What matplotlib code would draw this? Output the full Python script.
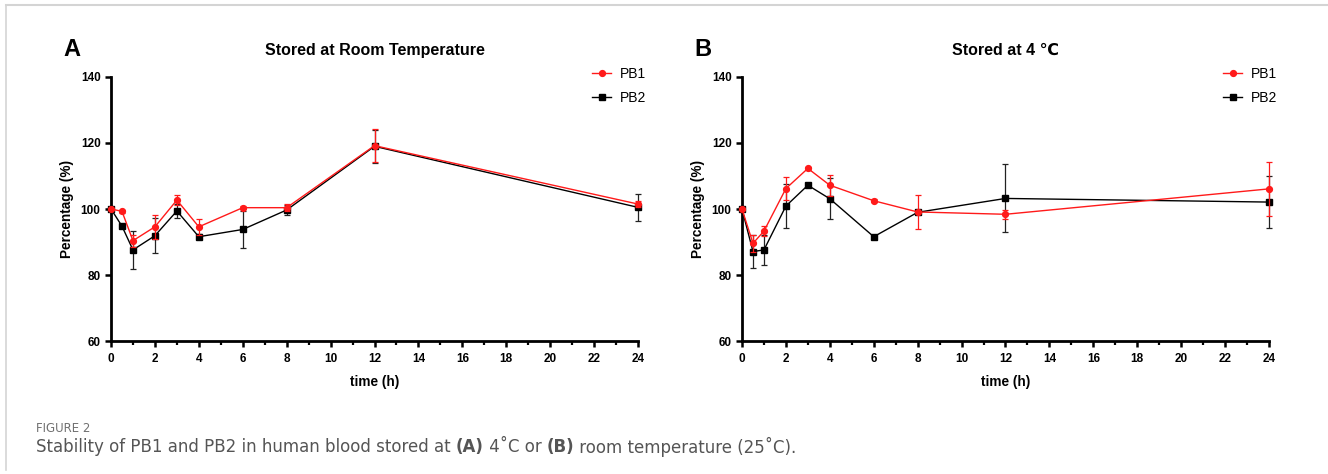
import matplotlib.pyplot as plt
import matplotlib.ticker as ticker
from matplotlib.lines import Line2D

FONT = ["Liberation Sans", "DejaVu Sans"]
CAPTION_FONT = ["DejaVu Sans"]
plt.rcParams["font.family"] = FONT

TIME = [0, 0.5, 1, 2, 3, 4, 6, 8, 12, 24]

# Panel A - room temperature
A_PB1 = [100, 99.3, 90.4, 94.6, 102.7, 94.6, 100.4, 100.4, 119.2, 101.5]
A_PB1_ERR = [0, 0.5, 1.8, 3.7, 1.5, 2.5, 0.5, 1.0, 5.0, 1.0]
A_PB2 = [100, 94.8, 87.6, 91.9, 99.4, 91.6, 93.8, 99.7, 119.0, 100.5]
A_PB2_ERR = [0, 0.5, 5.8, 5.3, 2.0, 0.7, 5.7, 1.5, 5.0, 4.0]

# Panel B - 4 degC
B_PB1 = [100, 89.6, 93.3, 106.2, 112.3, 107.2, 102.5, 99.1, 98.4, 106.1]
B_PB1_ERR = [0, 2.5, 1.5, 3.6, 0.5, 3.2, 0.5, 5.1, 1.3, 8.2]
B_PB2 = [100, 87.1, 87.6, 100.9, 107.2, 103.1, 91.6, 99.0, 103.2, 102.1]
B_PB2_ERR = [0, 5.0, 4.6, 6.7, 0.5, 6.2, 0.6, 0.5, 10.3, 8.0]

PANELS = [
    ("A", "Stored at Room Temperature", A_PB1, A_PB1_ERR, A_PB2, A_PB2_ERR),
    ("B", "Stored at 4 \u2103", B_PB1, B_PB1_ERR, B_PB2, B_PB2_ERR),
]
LEFTS = [111, 742]
RED = "#ff1a1a"

W, H = 1328, 474
fig = plt.figure(figsize=(W / 100, H / 100), dpi=100)

# light frame around the figure (top and left visible)
fig.add_artist(Line2D([6 / W, 1], [1 - 4.5 / H] * 2, color="#d4d4d4", lw=1.5))
fig.add_artist(Line2D([6 / W] * 2, [1 - 4.5 / H, 4 / H], color="#d4d4d4", lw=1.2))

for (letter, title, pb1, e1, pb2, e2), left in zip(PANELS, LEFTS):
    ax = fig.add_axes([left / W, 1 - 341 / H, 527 / W, 264 / H])
    ax.errorbar(TIME, pb2, yerr=e2, color="black", lw=1.0, marker="s",
                markersize=4.2, elinewidth=0.9, capsize=2.2, capthick=0.9,
                ecolor="#222222", zorder=3, clip_on=False)
    ax.errorbar(TIME, pb1, yerr=e1, color=RED, lw=1.0, marker="o",
                markersize=4.2, elinewidth=0.9, capsize=2.2, capthick=0.9,
                zorder=4, clip_on=False)

    ax.set_xlim(0, 24)
    ax.set_ylim(60, 140)
    ax.xaxis.set_major_locator(ticker.MultipleLocator(2))
    ax.xaxis.set_minor_locator(ticker.MultipleLocator(1))
    ax.yaxis.set_major_locator(ticker.MultipleLocator(20))
    for s in ("top", "right"):
        ax.spines[s].set_visible(False)
    for s in ("left", "bottom"):
        ax.spines[s].set_linewidth(2.0)
    ax.tick_params(which="major", length=4, width=1.8, labelsize=8.5)
    ax.tick_params(axis="x", which="major", pad=5)
    ax.tick_params(which="minor", length=3, width=1.6)
    for lab in ax.get_xticklabels() + ax.get_yticklabels():
        lab.set_fontweight("bold")

    ax.set_xlabel("time (h)", fontsize=9.8, fontweight="bold", labelpad=7)
    ax.set_ylabel("Percentage (%)", fontsize=9.8, fontweight="bold", labelpad=5)
    ax.set_title(title, fontsize=11.5, fontweight="bold", pad=16)
    ax.text(-0.091, 1.105, letter, transform=ax.transAxes, fontsize=17,
            fontweight="bold", ha="left", va="center")

    handles = [
        Line2D([], [], color=RED, lw=1.0, marker="o", markersize=4.2),
        Line2D([], [], color="black", lw=1.0, marker="s", markersize=4.2),
    ]
    ax.legend(handles, ["PB1", "PB2"], loc="upper right",
              bbox_to_anchor=(1.039, 1.087), frameon=False, fontsize=10,
              handlelength=1.4, handletextpad=0.6, labelspacing=0.75)

# caption
fig.text(36 / W, 1 - 428 / H, "FIGURE 2", fontsize=8.5, color="#707070",
         family=CAPTION_FONT, va="center")

segments = [
    ("Stability of PB1 and PB2 in human blood stored at ", "normal"),
    ("(A)", "bold"),
    (" 4\u02daC or ", "normal"),
    ("(B)", "bold"),
    (" room temperature (25\u02daC).", "normal"),
]
fig.canvas.draw()
renderer = fig.canvas.get_renderer()
x = 36
for txt, weight in segments:
    t = fig.text(x / W, 1 - 447 / H, txt, fontsize=12, color="#555555",
                 family=CAPTION_FONT, weight=weight, va="center")
    bb = t.get_window_extent(renderer)
    x += bb.width

fig.savefig("out.png", dpi=100)
